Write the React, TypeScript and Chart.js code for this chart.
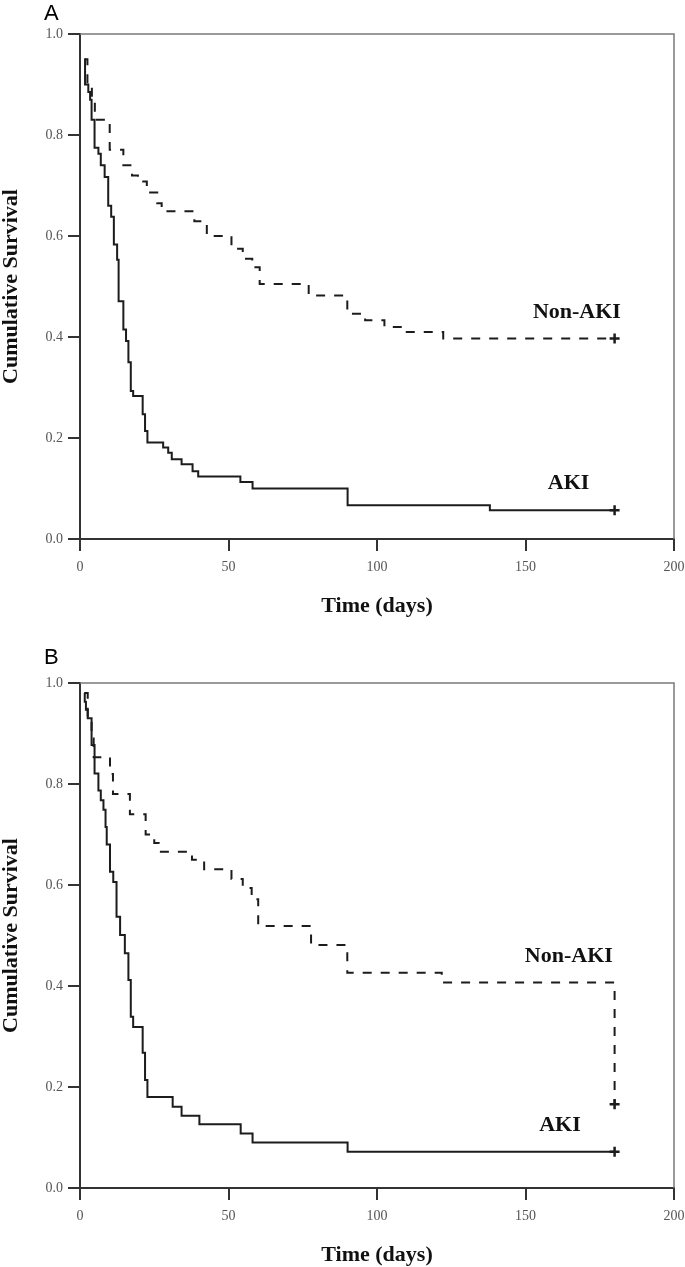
import React, { useEffect, useRef } from "react";
import { Chart, registerables } from "chart.js";

Chart.register(...registerables);

// ---- axis ticks ----
const X_TICKS = [0, 50, 100, 150, 200];
const Y_TICKS = [0, 0.2, 0.4, 0.6, 0.8, 1.0];

// ---- Panel A ----
const A_AKI_DAYS = [1.5, 1.7, 2.8, 3.4, 3.9, 4.9, 6.2, 7.0, 8.3, 9.5, 10.5, 11.4, 12.5, 13.0, 14.6, 15.5, 16.3, 17.1, 17.9, 21.1, 21.9, 22.7, 28.0, 29.7, 30.9, 34.2, 37.9, 39.8, 54.0, 58.1, 90.1, 138, 180];
const A_AKI_SURV = [0.95, 0.9, 0.885, 0.87, 0.83, 0.775, 0.763, 0.74, 0.717, 0.66, 0.638, 0.583, 0.553, 0.471, 0.415, 0.392, 0.35, 0.293, 0.283, 0.247, 0.214, 0.191, 0.181, 0.171, 0.158, 0.148, 0.134, 0.124, 0.113, 0.1, 0.067, 0.057, 0.057];

const A_NONAKI_DAYS = [1.5, 2.5, 4, 5, 10, 14.6, 17.5, 19.5, 22.5, 26, 27.5, 38.5, 42.7, 51, 54.8, 58, 60.5, 77, 90, 96, 102.5, 108, 122.3, 180];
const A_NONAKI_SURV = [0.95, 0.9, 0.87, 0.83, 0.771, 0.74, 0.72, 0.708, 0.686, 0.665, 0.649, 0.629, 0.6, 0.575, 0.555, 0.538, 0.505, 0.482, 0.446, 0.433, 0.42, 0.41, 0.397, 0.397];

// ---- Panel B ----
const B_AKI_DAYS = [1.5, 1.6, 2.0, 2.6, 3.9, 4.9, 6.2, 7.0, 7.9, 8.6, 9.0, 10.1, 11.2, 12.3, 13.5, 15.1, 16.3, 17.1, 17.9, 21.1, 21.9, 22.7, 31.2, 34.2, 40.2, 54.1, 58.1, 90.1, 180];
const B_AKI_SURV = [0.98, 0.963, 0.947, 0.93, 0.877, 0.821, 0.787, 0.768, 0.749, 0.715, 0.68, 0.626, 0.606, 0.537, 0.501, 0.465, 0.412, 0.339, 0.319, 0.268, 0.214, 0.18, 0.161, 0.143, 0.126, 0.108, 0.09, 0.072, 0.072];

const B_NONAKI_DAYS = [1.5, 2.6, 3.9, 4.6, 10.1, 11.1, 16.8, 22.1, 25, 26.5, 37.7, 41.8, 51, 54.8, 57.8, 60, 77.8, 90, 121.8, 180];
const B_NONAKI_SURV = [0.98, 0.93, 0.89, 0.853, 0.82, 0.78, 0.74, 0.7, 0.683, 0.666, 0.65, 0.631, 0.612, 0.594, 0.572, 0.519, 0.481, 0.426, 0.407, 0.166];

const SERIF = "'Liberation Serif', 'DejaVu Serif', serif";
const LINE = "#1c1c1c";

type Label = { text: string; x: number; y: number };

const toPoints = (days: number[], surv: number[]) => days.map((d, i) => ({ x: d, y: surv[i] }));

const boxPlugin = {
  id: "boxLines",
  beforeDatasetsDraw(chart: any) {
    const { ctx, chartArea: a } = chart;
    ctx.save();
    ctx.strokeStyle = "#7a7a7a";
    ctx.lineWidth = 1.5;
    ctx.beginPath();
    ctx.moveTo(a.left, a.top);
    ctx.lineTo(a.right, a.top);
    ctx.lineTo(a.right, a.bottom);
    ctx.stroke();
    ctx.restore();
  },
};

function makeLabelPlugin(labels: Label[]) {
  return {
    id: "curveLabels",
    afterDatasetsDraw(chart: any) {
      const { ctx, scales } = chart;
      ctx.save();
      ctx.font = `bold 22px ${SERIF}`;
      ctx.fillStyle = "#111";
      ctx.textAlign = "center";
      ctx.textBaseline = "middle";
      labels.forEach((l) => {
        ctx.fillText(l.text, scales.x.getPixelForValue(l.x), scales.y.getPixelForValue(l.y));
      });
      ctx.restore();
    },
  };
}

function KMChart(props: {
  akiDays: number[];
  akiSurv: number[];
  nonDays: number[];
  nonSurv: number[];
  labels: Label[];
}) {
  const ref = useRef<HTMLCanvasElement | null>(null);
  useEffect(() => {
    if (!ref.current) return;
    const lastOnly = (ctx: any) => (ctx.dataIndex === ctx.dataset.data.length - 1 ? 5 : 0);
    const chart = new Chart(ref.current, {
      type: "line",
      data: {
        datasets: [
          {
            label: "Non-AKI",
            data: toPoints(props.nonDays, props.nonSurv),
            borderColor: LINE,
            borderWidth: 2,
            borderDash: [9, 9],
            stepped: "before",
            fill: false,
            pointStyle: "cross",
            pointRadius: lastOnly,
            pointBorderWidth: 2.5,
            pointBorderColor: LINE,
          },
          {
            label: "AKI",
            data: toPoints(props.akiDays, props.akiSurv),
            borderColor: LINE,
            borderWidth: 2,
            stepped: "before",
            fill: false,
            pointStyle: "cross",
            pointRadius: lastOnly,
            pointBorderWidth: 2.5,
            pointBorderColor: LINE,
          },
        ],
      },
      options: {
        animation: false,
        responsive: false,
        devicePixelRatio: 1,
        layout: { padding: { top: 34, right: 11, left: 0, bottom: 0 } },
        plugins: { legend: { display: false }, tooltip: { enabled: false } },
        events: [],
        scales: {
          x: {
            type: "linear",
            min: 0,
            max: 200,
            afterBuildTicks: (s: any) => {
              s.ticks = X_TICKS.map((v) => ({ value: v }));
            },
            afterFit: (s: any) => {
              s.height = 79;
              s.paddingLeft = 0;
              s.paddingRight = 0;
            },
            ticks: {
              font: { family: SERIF, size: 14 },
              color: "#555",
              padding: 8,
              maxRotation: 0,
              autoSkip: false,
            },
            grid: { display: true, drawOnChartArea: false, drawTicks: true, tickLength: 12, color: "#333", lineWidth: 2 },
            border: { display: true, color: "#333", width: 2 },
            title: {
              display: true,
              text: "Time (days)",
              color: "#111",
              font: { family: SERIF, size: 22, weight: "bold", lineHeight: 1 },
              padding: { top: 0, bottom: 1 },
            },
          },
          y: {
            type: "linear",
            min: 0,
            max: 1,
            afterBuildTicks: (s: any) => {
              s.ticks = Y_TICKS.map((v) => ({ value: v }));
            },
            afterFit: (s: any) => {
              s.width = 80;
              s.paddingTop = 0;
              s.paddingBottom = 0;
            },
            ticks: {
              font: { family: SERIF, size: 14 },
              color: "#555",
              padding: 5,
              callback: (v: any) => Number(v).toFixed(1),
            },
            grid: { display: true, drawOnChartArea: false, drawTicks: true, tickLength: 12, color: "#333", lineWidth: 2 },
            border: { display: true, color: "#333", width: 2 },
            title: {
              display: true,
              text: "Cumulative Survival",
              color: "#111",
              font: { family: SERIF, size: 22, weight: "bold", lineHeight: 1 },
              padding: { top: 0, bottom: 0 },
            },
          },
        },
      } as any,
      plugins: [boxPlugin, makeLabelPlugin(props.labels)],
    });
    return () => chart.destroy();
  }, []);
  return <canvas ref={ref} width={685} height={618} style={{ display: "block", width: 685, height: 618 }} />;
}

const LABELS_A: Label[] = [
  { text: "Non-AKI", x: 167.3, y: 0.449 },
  { text: "AKI", x: 164.5, y: 0.11 },
];
const LABELS_B: Label[] = [
  { text: "Non-AKI", x: 164.6, y: 0.459 },
  { text: "AKI", x: 161.6, y: 0.124 },
];

const letterStyle: React.CSSProperties = {
  position: "absolute",
  left: 44,
  fontFamily: "'Liberation Sans', Arial, sans-serif",
  fontSize: 22,
  lineHeight: "22px",
  color: "#000",
};

export default function App() {
  return (
    <div style={{ position: "absolute", left: 0, top: 0, width: 685, height: 1267, background: "#fff", overflow: "hidden" }}>
      <div style={{ position: "absolute", left: 0, top: 0 }}>
        <KMChart akiDays={A_AKI_DAYS} akiSurv={A_AKI_SURV} nonDays={A_NONAKI_DAYS} nonSurv={A_NONAKI_SURV} labels={LABELS_A} />
      </div>
      <div style={{ position: "absolute", left: 0, top: 649 }}>
        <KMChart akiDays={B_AKI_DAYS} akiSurv={B_AKI_SURV} nonDays={B_NONAKI_DAYS} nonSurv={B_NONAKI_SURV} labels={LABELS_B} />
      </div>
      <div style={{ ...letterStyle, top: 2 }}>A</div>
      <div style={{ ...letterStyle, top: 646 }}>B</div>
    </div>
  );
}
